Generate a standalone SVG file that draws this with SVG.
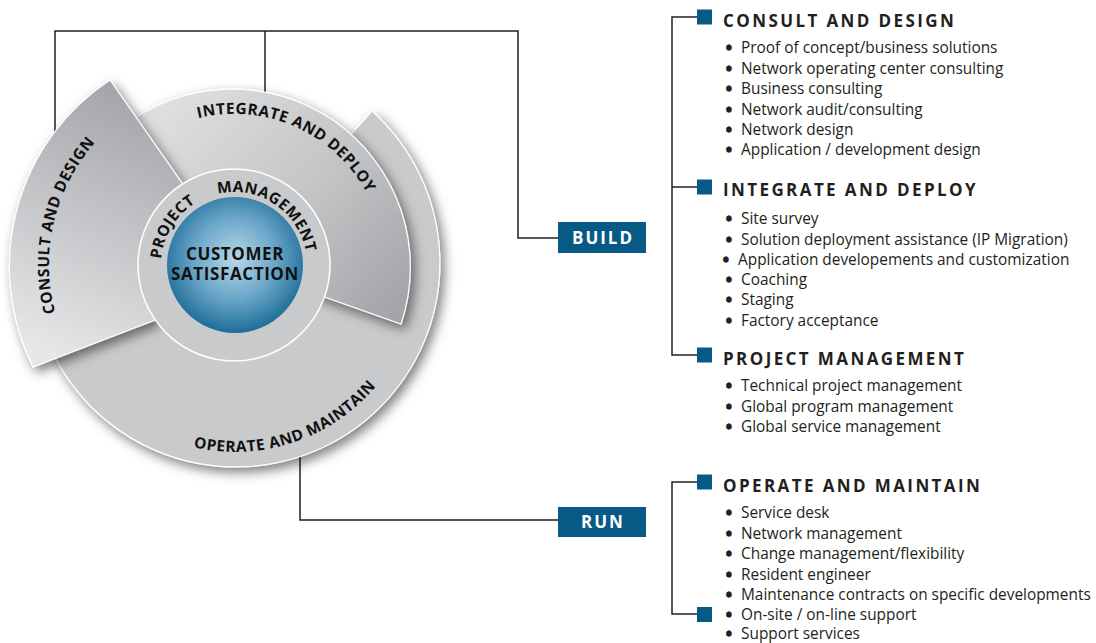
<svg xmlns="http://www.w3.org/2000/svg" width="1096" height="643" viewBox="0 0 1096 643">
<style>
.ln{fill:none;stroke:#231f20;stroke-width:1.5}
.sq{fill:#085a86}
.box{fill:#085a86}
.bt{font-family:"Open Sans","Noto Sans",sans-serif;font-weight:700;font-size:17px;fill:#fff;letter-spacing:2px;text-anchor:middle}
.hd{font-family:"Open Sans","Noto Sans",sans-serif;font-weight:700;font-size:17px;fill:#231f20;letter-spacing:2.4px}
.it{font-family:"Open Sans","Noto Sans",sans-serif;font-size:15.4px;fill:#231f20}
.b{font-weight:700;stroke:#231f20;stroke-width:1.3}
.arc{font-family:"Open Sans","Noto Sans",sans-serif;font-weight:700;font-size:15.5px;fill:#111;letter-spacing:0.5px}
.cs{font-family:"Open Sans","Noto Sans",sans-serif;font-weight:700;font-size:17px;fill:#111;letter-spacing:0.6px;text-anchor:middle}
.seg{stroke:#fff;stroke-width:1.2}
</style>
<defs>
<filter id="sh" x="-25%" y="-25%" width="150%" height="150%">
<feDropShadow dx="4" dy="5" stdDeviation="6" flood-color="#000" flood-opacity="0.5"/>
</filter>
<linearGradient id="gInt" gradientUnits="userSpaceOnUse" x1="170" y1="110" x2="400" y2="320">
<stop offset="0" stop-color="#dddee0"/><stop offset="0.5" stop-color="#c4c5c7"/><stop offset="1" stop-color="#a2a3a6"/>
</linearGradient>
<linearGradient id="gCon" gradientUnits="userSpaceOnUse" x1="170" y1="110" x2="60" y2="360">
<stop offset="0" stop-color="#a4a5a8"/><stop offset="1" stop-color="#e6e7e9"/>
</linearGradient>
<radialGradient id="gBlue" cx="50%" cy="45%" r="55%">
<stop offset="0" stop-color="#b8d8e8"/><stop offset="0.55" stop-color="#6aa6c8"/><stop offset="1" stop-color="#1e6d98"/>
</radialGradient>
<path id="pInt" d="M145.2,142.8 A151,151 0 0 1 384.2,249.2"/>
<path id="pPM" d="M161,265 A73,73 0 0 1 307,265"/>
<path id="pOp" d="M110.8,404.3 A185,185 0 0 0 416.3,302.1"/>
<path id="pCon" d="M107.6,400.1 A185,185 0 0 1 181.4,87.6"/>
</defs>
<rect width="1096" height="643" fill="#fff"/>
<g id="connectors">
<path class="ln" d="M55,140 V31 H518 V238 H558"/>
<path class="ln" d="M265,31 V100"/>
<path class="ln" d="M300,450 V520 H558"/>
<path class="ln" d="M697,17 H672 V355 H697 M672,187 H697"/>
<path class="ln" d="M697,482 H672 V614 H697"/>
</g>
<g id="wheel">
<g id="operate-and-maintain">
<path class="seg" fill="#c9cacc" filter="url(#sh)" d="M234,265 L372,111 A204,204 0 1 1 108,104 Z"/>
<text class="arc"><textPath href="#pOp" startOffset="50%" text-anchor="middle">OPERATE AND MAINTAIN</textPath></text>
</g>
<g id="integrate-and-deploy">
<path class="seg" fill="url(#gInt)" filter="url(#sh)" d="M234,265 L120,129 A178,178 0 0 1 401,324 Z"/>
<text class="arc"><textPath href="#pInt" startOffset="50%" text-anchor="middle">INTEGRATE AND DEPLOY</textPath></text>
</g>
<g id="consult-and-design">
<path class="seg" fill="url(#gCon)" filter="url(#sh)" d="M110,80 A224,224 0 0 0 33,367 L155,320 L182,183 Z"/>
<text class="arc"><textPath href="#pCon" startOffset="50%" text-anchor="middle">CONSULT AND DESIGN</textPath></text>
</g>
<g id="project-management">
<circle cx="234" cy="265" r="96" fill="#c9cacc" stroke="#fff" stroke-width="1.5"/>
<text class="arc"><textPath href="#pPM" startOffset="6">PROJECT</textPath></text>
<text class="arc"><textPath href="#pPM" startOffset="98">MANAGEMENT</textPath></text>
</g>
<g id="customer-satisfaction">
<circle cx="235" cy="265" r="68" fill="url(#gBlue)"/>
<text class="cs" x="235" y="260">CUSTOMER</text>
<text class="cs" x="235" y="280">SATISFACTION</text>
</g>
</g>
<g id="build">
<rect class="box" x="558" y="222" width="88" height="31"/>
<text class="bt" x="603" y="244">BUILD</text>
</g>
<g id="run">
<rect class="box" x="558" y="507" width="88" height="30"/>
<text class="bt" x="603" y="528">RUN</text>
</g>
<g id="list-consult">
<rect class="sq" x="697" y="9.5" width="15" height="15"/>
<text class="hd" x="723" y="27">CONSULT AND DESIGN</text>
<text class="it" y="53"><tspan class="b" x="726">•</tspan><tspan x="741">Proof of concept/business solutions</tspan></text>
<text class="it" y="74"><tspan class="b" x="726">•</tspan><tspan x="741">Network operating center consulting</tspan></text>
<text class="it" y="94"><tspan class="b" x="726">•</tspan><tspan x="741">Business consulting</tspan></text>
<text class="it" y="115"><tspan class="b" x="726">•</tspan><tspan x="741">Network audit/consulting</tspan></text>
<text class="it" y="135"><tspan class="b" x="726">•</tspan><tspan x="741">Network design</tspan></text>
<text class="it" y="155"><tspan class="b" x="726">•</tspan><tspan x="741">Application / development design</tspan></text>
</g>
<g id="list-integrate">
<rect class="sq" x="697" y="179.5" width="15" height="15"/>
<text class="hd" x="723" y="196">INTEGRATE AND DEPLOY</text>
<text class="it" y="224"><tspan class="b" x="726">•</tspan><tspan x="741">Site survey</tspan></text>
<text class="it" y="245"><tspan class="b" x="726">•</tspan><tspan x="741">Solution deployment assistance (IP Migration)</tspan></text>
<text class="it" y="265"><tspan class="b" x="723">•</tspan><tspan x="738">Application developements and customization</tspan></text>
<text class="it" y="285"><tspan class="b" x="726">•</tspan><tspan x="741">Coaching</tspan></text>
<text class="it" y="305"><tspan class="b" x="726">•</tspan><tspan x="741">Staging</tspan></text>
<text class="it" y="326"><tspan class="b" x="726">•</tspan><tspan x="741">Factory acceptance</tspan></text>
</g>
<g id="list-project">
<rect class="sq" x="697" y="347.5" width="15" height="15"/>
<text class="hd" x="723" y="365">PROJECT MANAGEMENT</text>
<text class="it" y="391"><tspan class="b" x="726">•</tspan><tspan x="741">Technical project management</tspan></text>
<text class="it" y="412"><tspan class="b" x="726">•</tspan><tspan x="741">Global program management</tspan></text>
<text class="it" y="432"><tspan class="b" x="726">•</tspan><tspan x="741">Global service management</tspan></text>
</g>
<g id="list-operate">
<rect class="sq" x="697" y="474.5" width="15" height="15"/>
<rect class="sq" x="697" y="607" width="15" height="15"/>
<text class="hd" x="723" y="492">OPERATE AND MAINTAIN</text>
<text class="it" y="518"><tspan class="b" x="726">•</tspan><tspan x="741">Service desk</tspan></text>
<text class="it" y="539"><tspan class="b" x="726">•</tspan><tspan x="741">Network management</tspan></text>
<text class="it" y="559"><tspan class="b" x="726">•</tspan><tspan x="741">Change management/flexibility</tspan></text>
<text class="it" y="580"><tspan class="b" x="726">•</tspan><tspan x="741">Resident engineer</tspan></text>
<text class="it" y="600"><tspan class="b" x="726">•</tspan><tspan x="741">Maintenance contracts on specific developments</tspan></text>
<text class="it" y="620"><tspan class="b" x="726">•</tspan><tspan x="741">On-site / on-line support</tspan></text>
<text class="it" y="639"><tspan class="b" x="726">•</tspan><tspan x="741">Support services</tspan></text>
</g>
</svg>
